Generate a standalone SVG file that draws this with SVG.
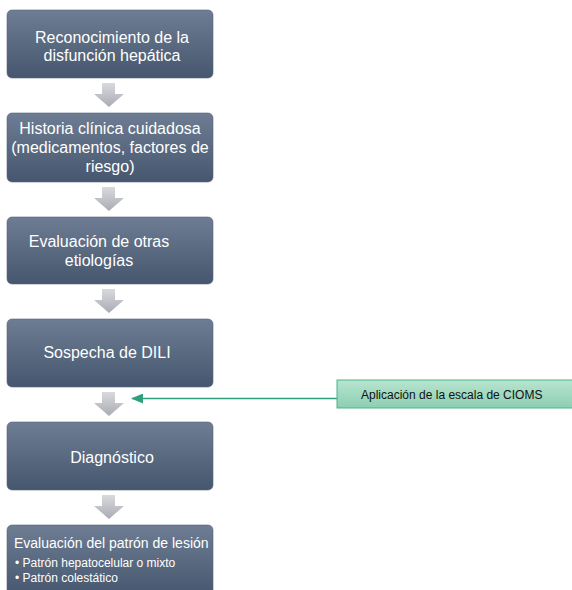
<svg xmlns="http://www.w3.org/2000/svg" width="572" height="590" viewBox="0 0 572 590">
<defs>
<linearGradient id="gBox" x1="0" y1="0" x2="0" y2="1">
<stop offset="0" stop-color="#6e7d93"/>
<stop offset="1" stop-color="#45566e"/>
</linearGradient>
<linearGradient id="gArrow" x1="0" y1="0" x2="0" y2="1">
<stop offset="0" stop-color="#d9dade"/>
<stop offset="1" stop-color="#a9acb4"/>
</linearGradient>
<linearGradient id="gGreen" x1="0" y1="0" x2="0" y2="1">
<stop offset="0" stop-color="#b8e4d0"/>
<stop offset="1" stop-color="#8ccfb1"/>
</linearGradient>
<marker id="tealHead" viewBox="0 0 12 10" refX="11" refY="5" markerWidth="12" markerHeight="10" markerUnits="userSpaceOnUse" orient="auto">
<path d="M0,0 L12,5 L0,10 Z" fill="#2f9f80"/>
</marker>
<path id="downArrow" d="M-7,0 H6 V11 H15 L0,24 L-15,11 H-7 Z"/>
</defs>
<style>
.box{fill:url(#gBox);stroke:#56667c;stroke-width:0.6}
.t{font-family:"Liberation Sans",Arial,sans-serif;fill:#ffffff;font-size:16px;text-anchor:middle}
.ts{font-family:"Liberation Sans",Arial,sans-serif;fill:#ffffff}
.arrow{fill:url(#gArrow)}
.gbox{fill:url(#gGreen);stroke:#4bb28f;stroke-width:1}
.gt{font-family:"Liberation Sans",Arial,sans-serif;fill:#111111;font-size:12px}
.conn{stroke:#2f9f80;stroke-width:1.6;fill:none}
</style>
<rect width="572" height="590" fill="#ffffff"/>

<g id="connectors">
<use href="#downArrow" class="arrow" x="109" y="83"/>
<use href="#downArrow" class="arrow" x="109" y="187"/>
<use href="#downArrow" class="arrow" x="109" y="289"/>
<use href="#downArrow" class="arrow" x="109" y="392"/>
<use href="#downArrow" class="arrow" x="109" y="495"/>
<line class="conn" x1="337" y1="398.5" x2="132" y2="398.5" marker-end="url(#tealHead)"/>
</g>

<g id="n1">
<rect class="box" x="7" y="10" width="206" height="68" rx="5"/>
<text class="t" x="112" y="43">Reconocimiento de la</text>
<text class="t" x="112" y="61">disfunción hepática</text>
</g>

<g id="n2">
<rect class="box" x="7" y="113" width="206" height="69" rx="5"/>
<text class="t" x="110" y="134">Historia clínica cuidadosa</text>
<text class="t" x="110" y="153">(medicamentos, factores de</text>
<text class="t" x="110" y="172">riesgo)</text>
</g>

<g id="n3">
<rect class="box" x="7" y="217" width="206" height="67" rx="5"/>
<text class="t" x="99" y="247">Evaluación de otras</text>
<text class="t" x="99" y="266">etiologías</text>
</g>

<g id="n4">
<rect class="box" x="7" y="319" width="206" height="68" rx="5"/>
<text class="t" x="107" y="358">Sospecha de DILI</text>
</g>

<g id="n5">
<rect class="box" x="7" y="422" width="206" height="68" rx="5"/>
<text class="t" x="112" y="463">Diagnóstico</text>
</g>

<g id="n6">
<rect class="box" x="7" y="525" width="206" height="72" rx="5"/>
<text class="ts" x="14" y="548" font-size="14">Evaluación del patrón de lesión</text>
<text class="ts" x="15" y="567" font-size="12">• Patrón hepatocelular o mixto</text>
<text class="ts" x="15" y="582" font-size="12">• Patrón colestático</text>
</g>

<g id="n7">
<rect class="gbox" x="337" y="380" width="240" height="28"/>
<text class="gt" x="361" y="399">Aplicación de la escala de CIOMS</text>
</g>
</svg>
